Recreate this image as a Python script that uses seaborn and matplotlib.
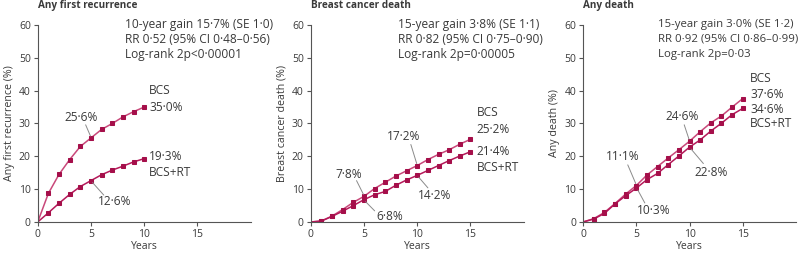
import numpy as np
import pandas as pd
import matplotlib
matplotlib.use("Agg")
import matplotlib.pyplot as plt
import seaborn as sns

sns.set_theme(style="ticks")
plt.rcParams["font.family"] = ["Open Sans", "DejaVu Sans"]

# ---- data ----
years_10 = list(range(0, 11))
years_15 = list(range(0, 16))

recur_bcs = [0, 8.7, 14.5, 19.0, 23.0, 25.6, 28.2, 30.0, 32.0, 33.6, 35.0]
recur_bcs_rt = [0, 2.8, 5.7, 8.4, 10.8, 12.6, 14.4, 15.8, 17.0, 18.3, 19.3]

bcd_bcs = [0, 0.3, 1.8, 3.8, 6.0, 7.8, 10.2, 12.1, 14.0, 15.6, 17.2, 19.0, 20.6, 22.0, 23.7, 25.2]
bcd_bcs_rt = [0, 0.3, 1.7, 3.3, 5.0, 6.8, 8.3, 9.3, 11.2, 12.8, 14.2, 15.7, 17.2, 18.7, 20.1, 21.4]

death_bcs = [0, 1.0, 2.9, 5.6, 8.5, 11.1, 14.3, 16.9, 19.5, 22.0, 24.6, 27.5, 30.2, 32.3, 35.0, 37.6]
death_bcs_rt = [0, 0.9, 2.6, 5.5, 8.0, 10.3, 12.9, 14.8, 17.5, 20.1, 22.8, 25.0, 27.7, 30.1, 32.7, 34.6]

titles = ["Any first recurrence", "Breast cancer death", "Any death"]
ylabels = ["Any first recurrence (%)", "Breast cancer death (%)", "Any death (%)"]
stats = [
    ["10-year gain 15·7% (SE 1·0)", "RR 0·52 (95% CI 0·48–0·56)", "Log-rank 2p<0·00001"],
    ["15-year gain 3·8% (SE 1·1)", "RR 0·82 (95% CI 0·75–0·90)", "Log-rank 2p=0·00005"],
    ["15-year gain 3·0% (SE 1·2)", "RR 0·92 (95% CI 0·86–0·99)", "Log-rank 2p=0·03"],
]
# end labels: (BCS value, BCS+RT value)
end_labels = [("35·0%", "19·3%"), ("25·2%", "21·4%"), ("37·6%", "34·6%")]
end_label_y = [[40.0, 35.0, 20.1, 15.0], [33.2, 28.3, 21.4, 16.6], [43.6, 38.8, 34.4, 30.0]]
# mid labels: (text, point x, point y, text x, text y, leader start x, leader start y)
mid_labels = [
    [("25·6%", 5, 25.6, 4.1, 31.7, 4.5, 29.6), ("12·6%", 5, 12.6, 7.2, 6.1, 6.2, 8.2)],
    [("7·8%", 5, 7.8, 3.6, 14.6, 4.3, 12.6), ("6·8%", 5, 6.8, 7.4, 1.8, 6.0, 3.4),
     ("17·2%", 10, 17.2, 8.7, 26.0, 9.4, 23.6), ("14·2%", 10, 14.2, 11.6, 8.2, 11.0, 10.4)],
    [("11·1%", 5, 11.1, 3.7, 19.8, 4.2, 17.4), ("10·3%", 5, 10.3, 6.6, 3.6, 5.8, 5.8),
     ("24·6%", 10, 24.6, 9.3, 32.0, 9.5, 29.6), ("22·8%", 10, 22.8, 12.0, 15.0, 11.3, 17.8)],
]

panels = [
    (years_10, recur_bcs, recur_bcs_rt),
    (years_15, bcd_bcs, bcd_bcs_rt),
    (years_15, death_bcs, death_bcs_rt),
]

bcs_line = "#c9487a"
bcs_rt_line = "#b5195a"
mark_col = "#a50f4a"
text_col = "#3a3a3a"
lead_col = "#8a8a8a"

fig = plt.figure(figsize=(7.99, 2.54), dpi=100)
lefts = [0.0472, 0.3889, 0.7297]
stat_x = [8.2, 8.2, 7.0]
stat_fs = [8.6, 8.6, 8.2]
end_off = [0.45, 0.6, 0.7]

for i, (yrs, bcs, bcsrt) in enumerate(panels):
    ax = fig.add_axes([lefts[i], 0.126, 0.2666, 0.7756])
    df = pd.DataFrame({
        "year": yrs + yrs,
        "value": bcs + bcsrt,
        "group": ["BCS"] * len(yrs) + ["BCS+RT"] * len(yrs),
    })
    every = list(range(1, len(yrs)))
    sns.lineplot(data=df[df.group == "BCS"], x="year", y="value", ax=ax,
                 color=bcs_line, lw=1.1, marker="s", markersize=2.8,
                 markerfacecolor=mark_col, markeredgecolor=mark_col,
                 markevery=every, legend=False)
    sns.lineplot(data=df[df.group == "BCS+RT"], x="year", y="value", ax=ax,
                 color=bcs_rt_line, lw=1.1, marker="s", markersize=2.8,
                 markerfacecolor=mark_col, markeredgecolor=mark_col,
                 markevery=every, legend=False)

    ax.set_xlim(0, 20)
    ax.set_ylim(0, 60)
    ax.set_xticks([0, 5, 10, 15])
    ax.set_yticks(range(0, 61, 10))
    ax.set_xlabel("Years", fontsize=7.5, color=text_col, labelpad=1)
    ax.set_ylabel(ylabels[i], fontsize=7.7, color=text_col, labelpad=3)
    ax.tick_params(labelsize=7.5, colors="#555555", labelcolor=text_col,
                   length=3, width=0.8, pad=2)
    sns.despine(ax=ax)
    for s in ["left", "bottom"]:
        ax.spines[s].set_color("#555555")
        ax.spines[s].set_linewidth(0.8)

    ax.text(0, 1.07, titles[i], transform=ax.transAxes, fontsize=7.2,
            fontweight="bold", color=text_col, ha="left", va="bottom")

    for k, line in enumerate(stats[i]):
        ax.text(stat_x[i], 60.3 - k * 4.6, line, fontsize=stat_fs[i], color=text_col,
                ha="left", va="center", clip_on=False)

    tx = yrs[-1] + end_off[i]
    b_lab, r_lab = end_labels[i]
    for lab, yy in zip(["BCS", b_lab, r_lab, "BCS+RT"], end_label_y[i]):
        ax.text(tx, yy, lab, fontsize=8.6, color=text_col, va="center")

    for lab, px, py, lx, ly, sx, sy in mid_labels[i]:
        ax.text(lx, ly, lab, fontsize=8.6, color=text_col, ha="center", va="center")
        ax.plot([sx, px + (0.15 if sx > px else -0.05)], [sy, py + (-0.6 if sy < py else 0.6)],
                color=lead_col, lw=0.7)

fig.savefig("out.png", dpi=100)
